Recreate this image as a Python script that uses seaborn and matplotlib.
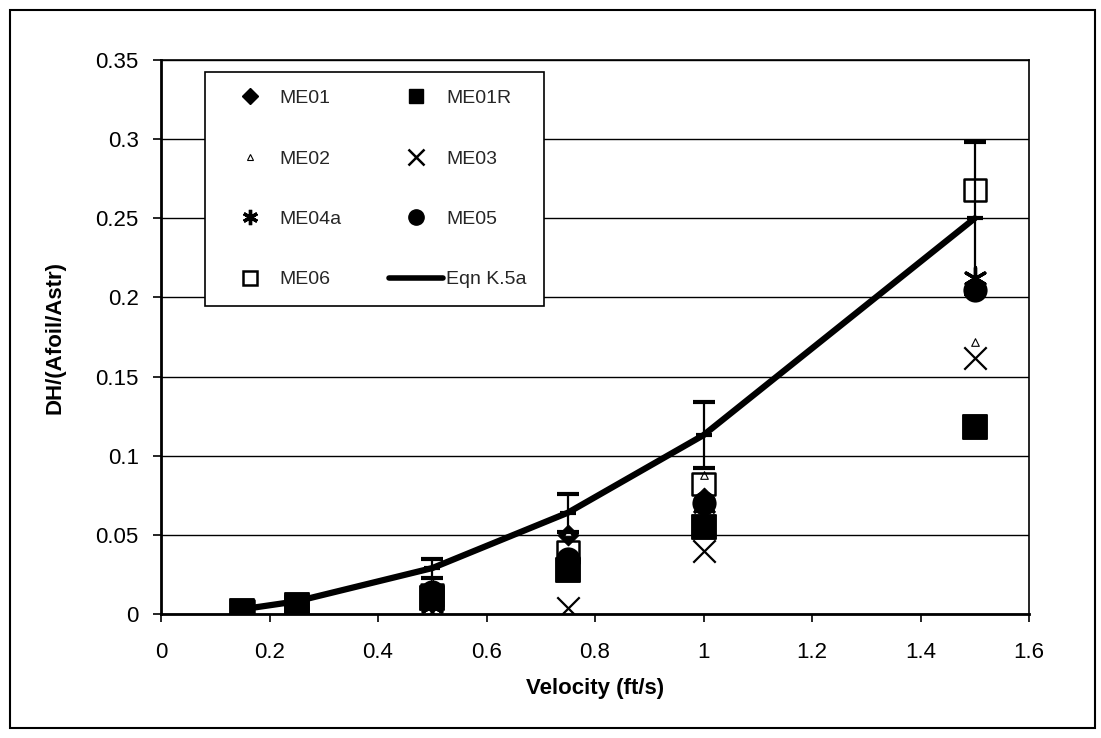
import matplotlib
matplotlib.use("Agg")
import matplotlib.pyplot as plt
import seaborn as sns
import pandas as pd
from matplotlib.patches import Rectangle
from matplotlib.lines import Line2D

# ---------------- data ----------------
velocity = [0.15, 0.25, 0.5, 0.75, 1.0, 1.5]
me01  = [0.002, 0.006, 0.012, 0.050, 0.073, 0.206]
me01r = [0.002, 0.006, 0.010, 0.028, 0.055, 0.118]
me02  = [0.003, 0.008, 0.020, 0.052, 0.088, 0.172]
me03  = [0.000, 0.000, 0.001, 0.004, 0.040, 0.162]
me04a = [0.000, 0.001, 0.005, 0.030, 0.068, 0.212]
me05  = [0.001, 0.004, 0.014, 0.035, 0.070, 0.205]
me06  = [0.002, 0.005, 0.012, 0.039, 0.082, 0.268]
eqn_y   = [0.003, 0.008, 0.029, 0.064, 0.113, 0.250]
eqn_err = [0.0005, 0.0015, 0.006, 0.012, 0.021, 0.048]

x_ticks = [0, 0.2, 0.4, 0.6, 0.8, 1.0, 1.2, 1.4, 1.6]
x_ticklabels = ["0", "0.2", "0.4", "0.6", "0.8", "1", "1.2", "1.4", "1.6"]
y_ticks = [0, 0.05, 0.1, 0.15, 0.2, 0.25, 0.3, 0.35]
y_ticklabels = ["0", "0.05", "0.1", "0.15", "0.2", "0.25", "0.3", "0.35"]

# ---------------- style ----------------
sns.set_style("ticks")
plt.rcParams["font.family"] = ["Liberation Sans", "DejaVu Sans"]

fig = plt.figure(figsize=(11.01, 7.38), dpi=100)
ax = fig.add_axes([161 / 1101, 1 - 614 / 738, (1029 - 161) / 1101, (614 - 60) / 738])

series = [
    ("ME01", me01, dict(marker="D", s=110, color="black", edgecolor="black")),
    ("ME01R", me01r, dict(marker="s", s=280, color="black", edgecolor="black")),
    ("ME02", me02, dict(marker="^", s=30, color="white", edgecolor="black", linewidth=0.8)),
    ("ME03", me03, dict(marker="x", s=260, color="black", linewidth=1.6)),
    ("ME04a", me04a, dict(marker=(6, 2, 0), s=240, color="black", linewidth=2.4)),
    ("ME05", me05, dict(marker="o", s=260, color="black", edgecolor="black")),
    ("ME06", me06, dict(marker="s", s=260, facecolor="none", edgecolor="black", linewidth=1.8)),
]

for name, vals, kw in series:
    df = pd.DataFrame({"Velocity": velocity, "Value": vals})
    sns.scatterplot(data=df, x="Velocity", y="Value", ax=ax, zorder=3, legend=False, **kw)

# equation line with error bars
df_eqn = pd.DataFrame({"Velocity": velocity, "Value": eqn_y})
sns.lineplot(data=df_eqn, x="Velocity", y="Value", ax=ax, color="black", linewidth=4.5,
             zorder=4, legend=False, sort=True)
ax.errorbar(velocity, eqn_y, yerr=eqn_err, fmt="_", color="black", markersize=12,
            markeredgewidth=3, elinewidth=1.6, capsize=8, capthick=2, zorder=5)

# ---------------- axes ----------------
ax.set_xlim(0, 1.6)
ax.set_ylim(0, 0.35)
ax.set_xticks(x_ticks)
ax.set_xticklabels(x_ticklabels)
ax.set_yticks(y_ticks)
ax.set_yticklabels(y_ticklabels)
ax.tick_params(axis="both", direction="out", length=6, width=1.2, color="black",
               labelsize=16, labelcolor="black")
ax.tick_params(axis="x", pad=14)
ax.tick_params(axis="y", pad=10)

ax.yaxis.grid(True, color="black", linewidth=1.0)
ax.xaxis.grid(False)
ax.set_axisbelow(True)
for side in ["left", "bottom", "top", "right"]:
    ax.spines[side].set_visible(True)
    ax.spines[side].set_color("black")
ax.spines["left"].set_linewidth(2.0)
ax.spines["bottom"].set_linewidth(2.0)
ax.spines["top"].set_linewidth(1.2)
ax.spines["right"].set_linewidth(1.2)

ax.set_xlabel("Velocity (ft/s)", fontsize=16, fontweight="bold", color="black")
ax.set_ylabel("DH/(Afoil/Astr)", fontsize=16, fontweight="bold", color="black")
ax.xaxis.set_label_coords(0.5, -0.115)
ax.yaxis.set_label_coords(-0.11, 0.5)

# ---------------- legend ----------------
def mk(name, marker, ms, face, mew=1.0):
    return Line2D([], [], linestyle="none", marker=marker, markersize=ms,
                  markerfacecolor=face, markeredgecolor="black", markeredgewidth=mew,
                  color="black", label=name)

h = {
    "ME01": mk("ME01", "D", 8, "black"),
    "ME01R": mk("ME01R", "s", 10, "black"),
    "ME02": mk("ME02", "^", 5, "white", 0.8),
    "ME03": mk("ME03", "x", 11, "black", 1.8),
    "ME04a": mk("ME04a", (6, 2, 0), 11, "black", 2.4),
    "ME05": mk("ME05", "o", 11, "black"),
    "ME06": mk("ME06", "s", 10, "none", 1.8),
    "Eqn K.5a": Line2D([], [], color="black", linewidth=4, label="Eqn K.5a"),
}
order = ["ME01", "ME02", "ME04a", "ME06", "ME01R", "ME03", "ME05", "Eqn K.5a"]
leg = ax.legend(handles=[h[k] for k in order], labels=order, ncol=2,
                loc="upper left", bbox_to_anchor=(0.0507, 0.978), borderaxespad=0,
                fontsize=14, frameon=True, fancybox=False, framealpha=1,
                edgecolor="black", labelspacing=2.2, handlelength=2.8,
                handletextpad=0.15, columnspacing=2.4, borderpad=0.9)
leg.get_frame().set_linewidth(1.2)
leg.set_zorder(10)

# outer chart frame
fig.patches.append(Rectangle((10 / 1101, 10 / 738), 1085 / 1101, 718 / 738,
                             transform=fig.transFigure, fill=False,
                             edgecolor="black", linewidth=1.5))

fig.savefig("out.png", dpi=100, facecolor="white")
